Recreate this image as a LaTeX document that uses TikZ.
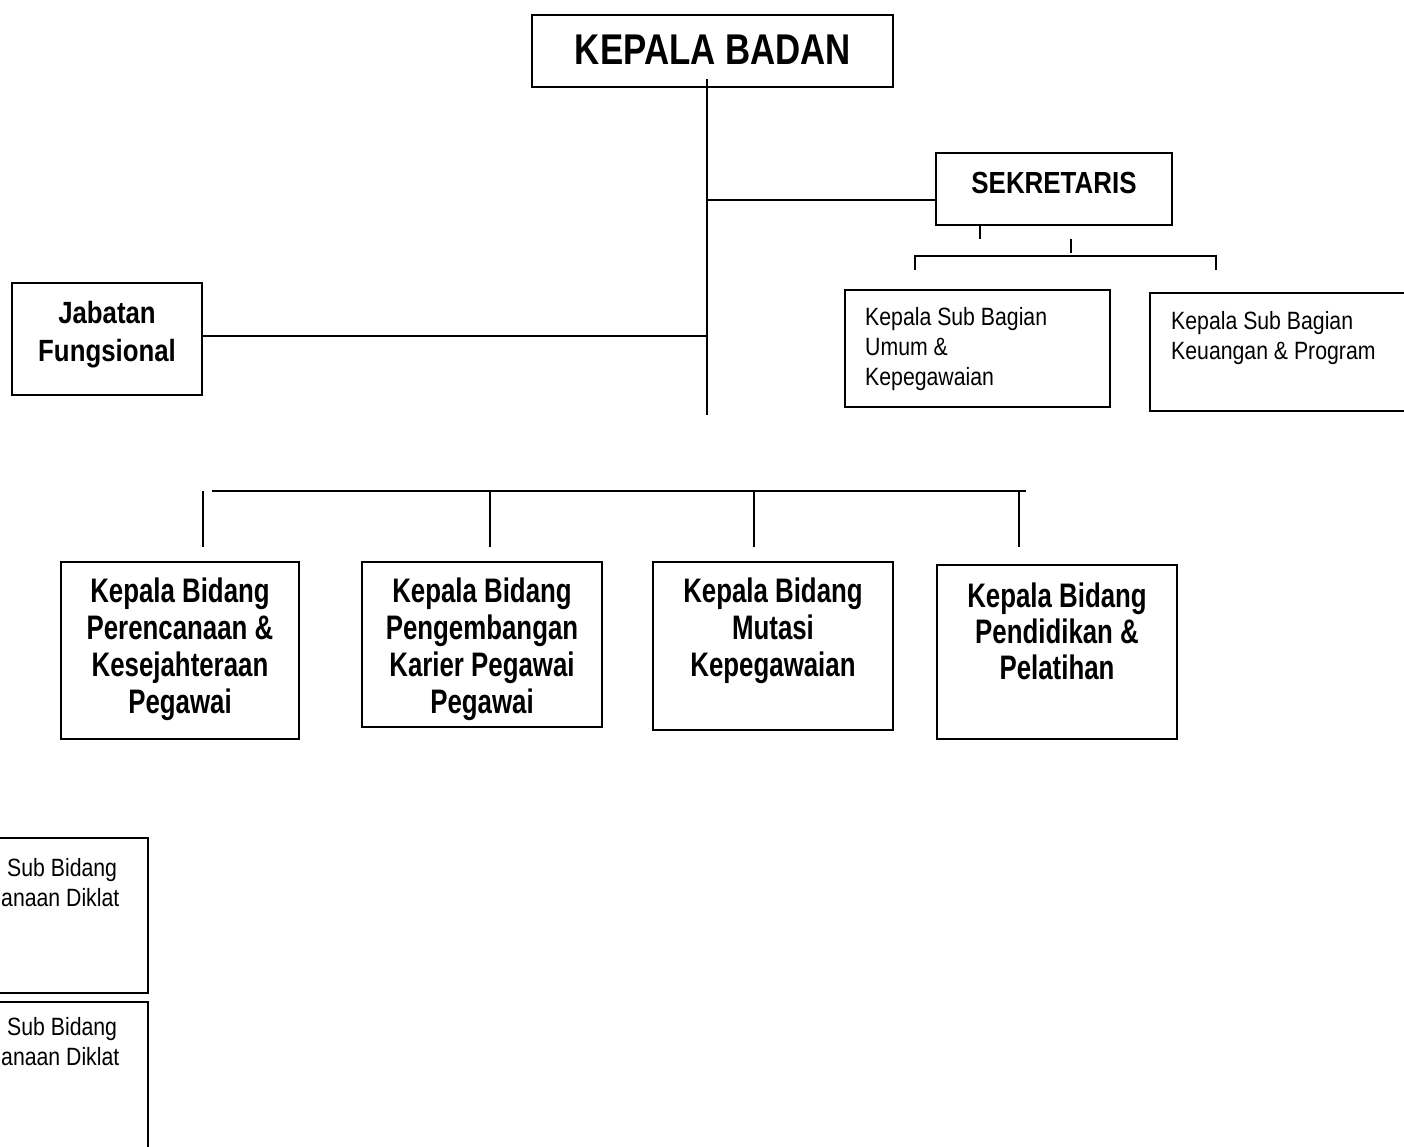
\documentclass[tikz,border=0pt]{standalone}
\usepackage{fontspec}
\setmainfont{Liberation Sans}
\newfontfamily\fkb{Liberation Sans}[FakeStretch=0.81]
\newfontfamily\fsek{Liberation Sans}[FakeStretch=0.85]
\newfontfamily\fjab{Liberation Sans}[FakeStretch=0.84]
\newfontfamily\fbid{Liberation Sans}[FakeStretch=0.76]
\newfontfamily\freg{Liberation Sans}[FakeStretch=0.85]
\begin{document}
\begin{tikzpicture}[x=1pt,y=-1pt,
  box/.style={draw, line width=1.6pt, inner sep=0pt, outer sep=0pt, anchor=north west},
  ln/.style={line width=1.6pt},
  txt/.style={inner sep=0pt, anchor=north, align=center},
  ltxt/.style={inner sep=0pt, anchor=north west, align=left},
  kbfont/.style={font=\fkb\bfseries\fontsize{43}{48}\selectfont},
  sekfont/.style={font=\fsek\bfseries\fontsize{30.5}{36}\selectfont},
  jabfont/.style={font=\fjab\bfseries\fontsize{30.7}{38}\selectfont},
  bidfont/.style={font=\fbid\bfseries\fontsize{34}{37}\selectfont},
  bidfontb/.style={font=\fbid\bfseries\fontsize{34}{36}\selectfont},
  regfont/.style={font=\freg\fontsize{25}{30}\selectfont}]
\useasboundingbox (0,0) rectangle (1404,1146);
\clip (0,0) rectangle (1404,1146);
\fill[white] (0,0) rectangle (1404,1146);

% boxes
\node[box, minimum width=361pt, minimum height=72pt] (kb) at (532,15) {};
\node[box, minimum width=236pt, minimum height=72pt] (sek) at (936,153) {};
\node[box, minimum width=190pt, minimum height=112pt] (jab) at (12,283) {};
\node[box, minimum width=265pt, minimum height=117pt] (sub1) at (845,290) {};
\node[box, minimum width=320pt, minimum height=118pt] (sub2) at (1150,293) {};
\node[box, minimum width=238pt, minimum height=177pt] (bid1) at (61,562) {};
\node[box, minimum width=240pt, minimum height=165pt] (bid2) at (362,562) {};
\node[box, minimum width=240pt, minimum height=168pt] (bid3) at (653,562) {};
\node[box, minimum width=240pt, minimum height=174pt] (bid4) at (937,565) {};
\node[box, minimum width=248pt, minimum height=155pt] (sb1) at (-100,838) {};
\node[box, minimum width=248pt, minimum height=250pt] (sb2) at (-100,1002) {};

% texts
\node[txt, kbfont] (kbt) at (713,35) {KEPALA BADAN};
\node[txt, sekfont] (sekt) at (1054,172) {SEKRETARIS};
\node[txt, jabfont] (jabt) at (107,301) {Jabatan\\Fungsional};
\node[ltxt, regfont] (sub1t) at (865,307) {Kepala Sub Bagian\\Umum \&\\Kepegawaian};
\node[ltxt, regfont] (sub2t) at (1171,311) {Kepala Sub Bagian\\Keuangan \& Program};
\node[txt, bidfont] (bid1t) at (180,578) {Kepala Bidang\\Perencanaan \&\\Kesejahteraan\\Pegawai};
\node[txt, bidfont] (bid2t) at (482,578) {Kepala Bidang\\Pengembangan\\Karier Pegawai\\Pegawai};
\node[txt, bidfont] (bid3t) at (773,578) {Kepala Bidang\\Mutasi\\Kepegawaian};
\node[txt, bidfontb] (bid4t) at (1057,583) {Kepala Bidang\\Pendidikan \&\\Pelatihan};
\node[ltxt, regfont] (sb1t) at (0,858) {\hspace*{7pt}Sub Bidang\\\hspace*{1pt}anaan Diklat};
\node[ltxt, regfont] (sb2t) at (0,1017) {\hspace*{7pt}Sub Bidang\\\hspace*{1pt}anaan Diklat};

% main trunk
\coordinate (mtop) at (707,79);
\coordinate (msek) at (707,200);
\coordinate (mjab) at (707,336);
\coordinate (mbot) at (707,415);
\draw[ln] (mtop) -- (mbot);
\draw[ln] (msek) -- (msek -| sek.west);
\draw[ln] (jab.east |- mjab) -- (mjab);

% sekretaris branches
\coordinate (st1) at (980,226);
\coordinate (st2) at (1071,239);
\coordinate (bl) at (915,270);
\coordinate (br) at (1216,270);
\draw[ln] (st1) -- ++(0,13);
\draw[ln] (st2) -- ++(0,14);
\draw[ln] (bl) -- ++(0,-14) -| (br);

% bidang bus
\coordinate (busL) at (212,491);
\coordinate (busR) at (1026,491);
\draw[ln] (busL) -- (busR);
\coordinate (d0) at (203,491);
\coordinate (d1) at (490,491);
\coordinate (d2) at (754,491);
\coordinate (d3) at (1019,491);
\draw[ln] (d0) -- ++(0,56);
\draw[ln] (d1) -- ++(0,56);
\draw[ln] (d2) -- ++(0,56);
\draw[ln] (d3) -- ++(0,56);
\end{tikzpicture}
\end{document}
